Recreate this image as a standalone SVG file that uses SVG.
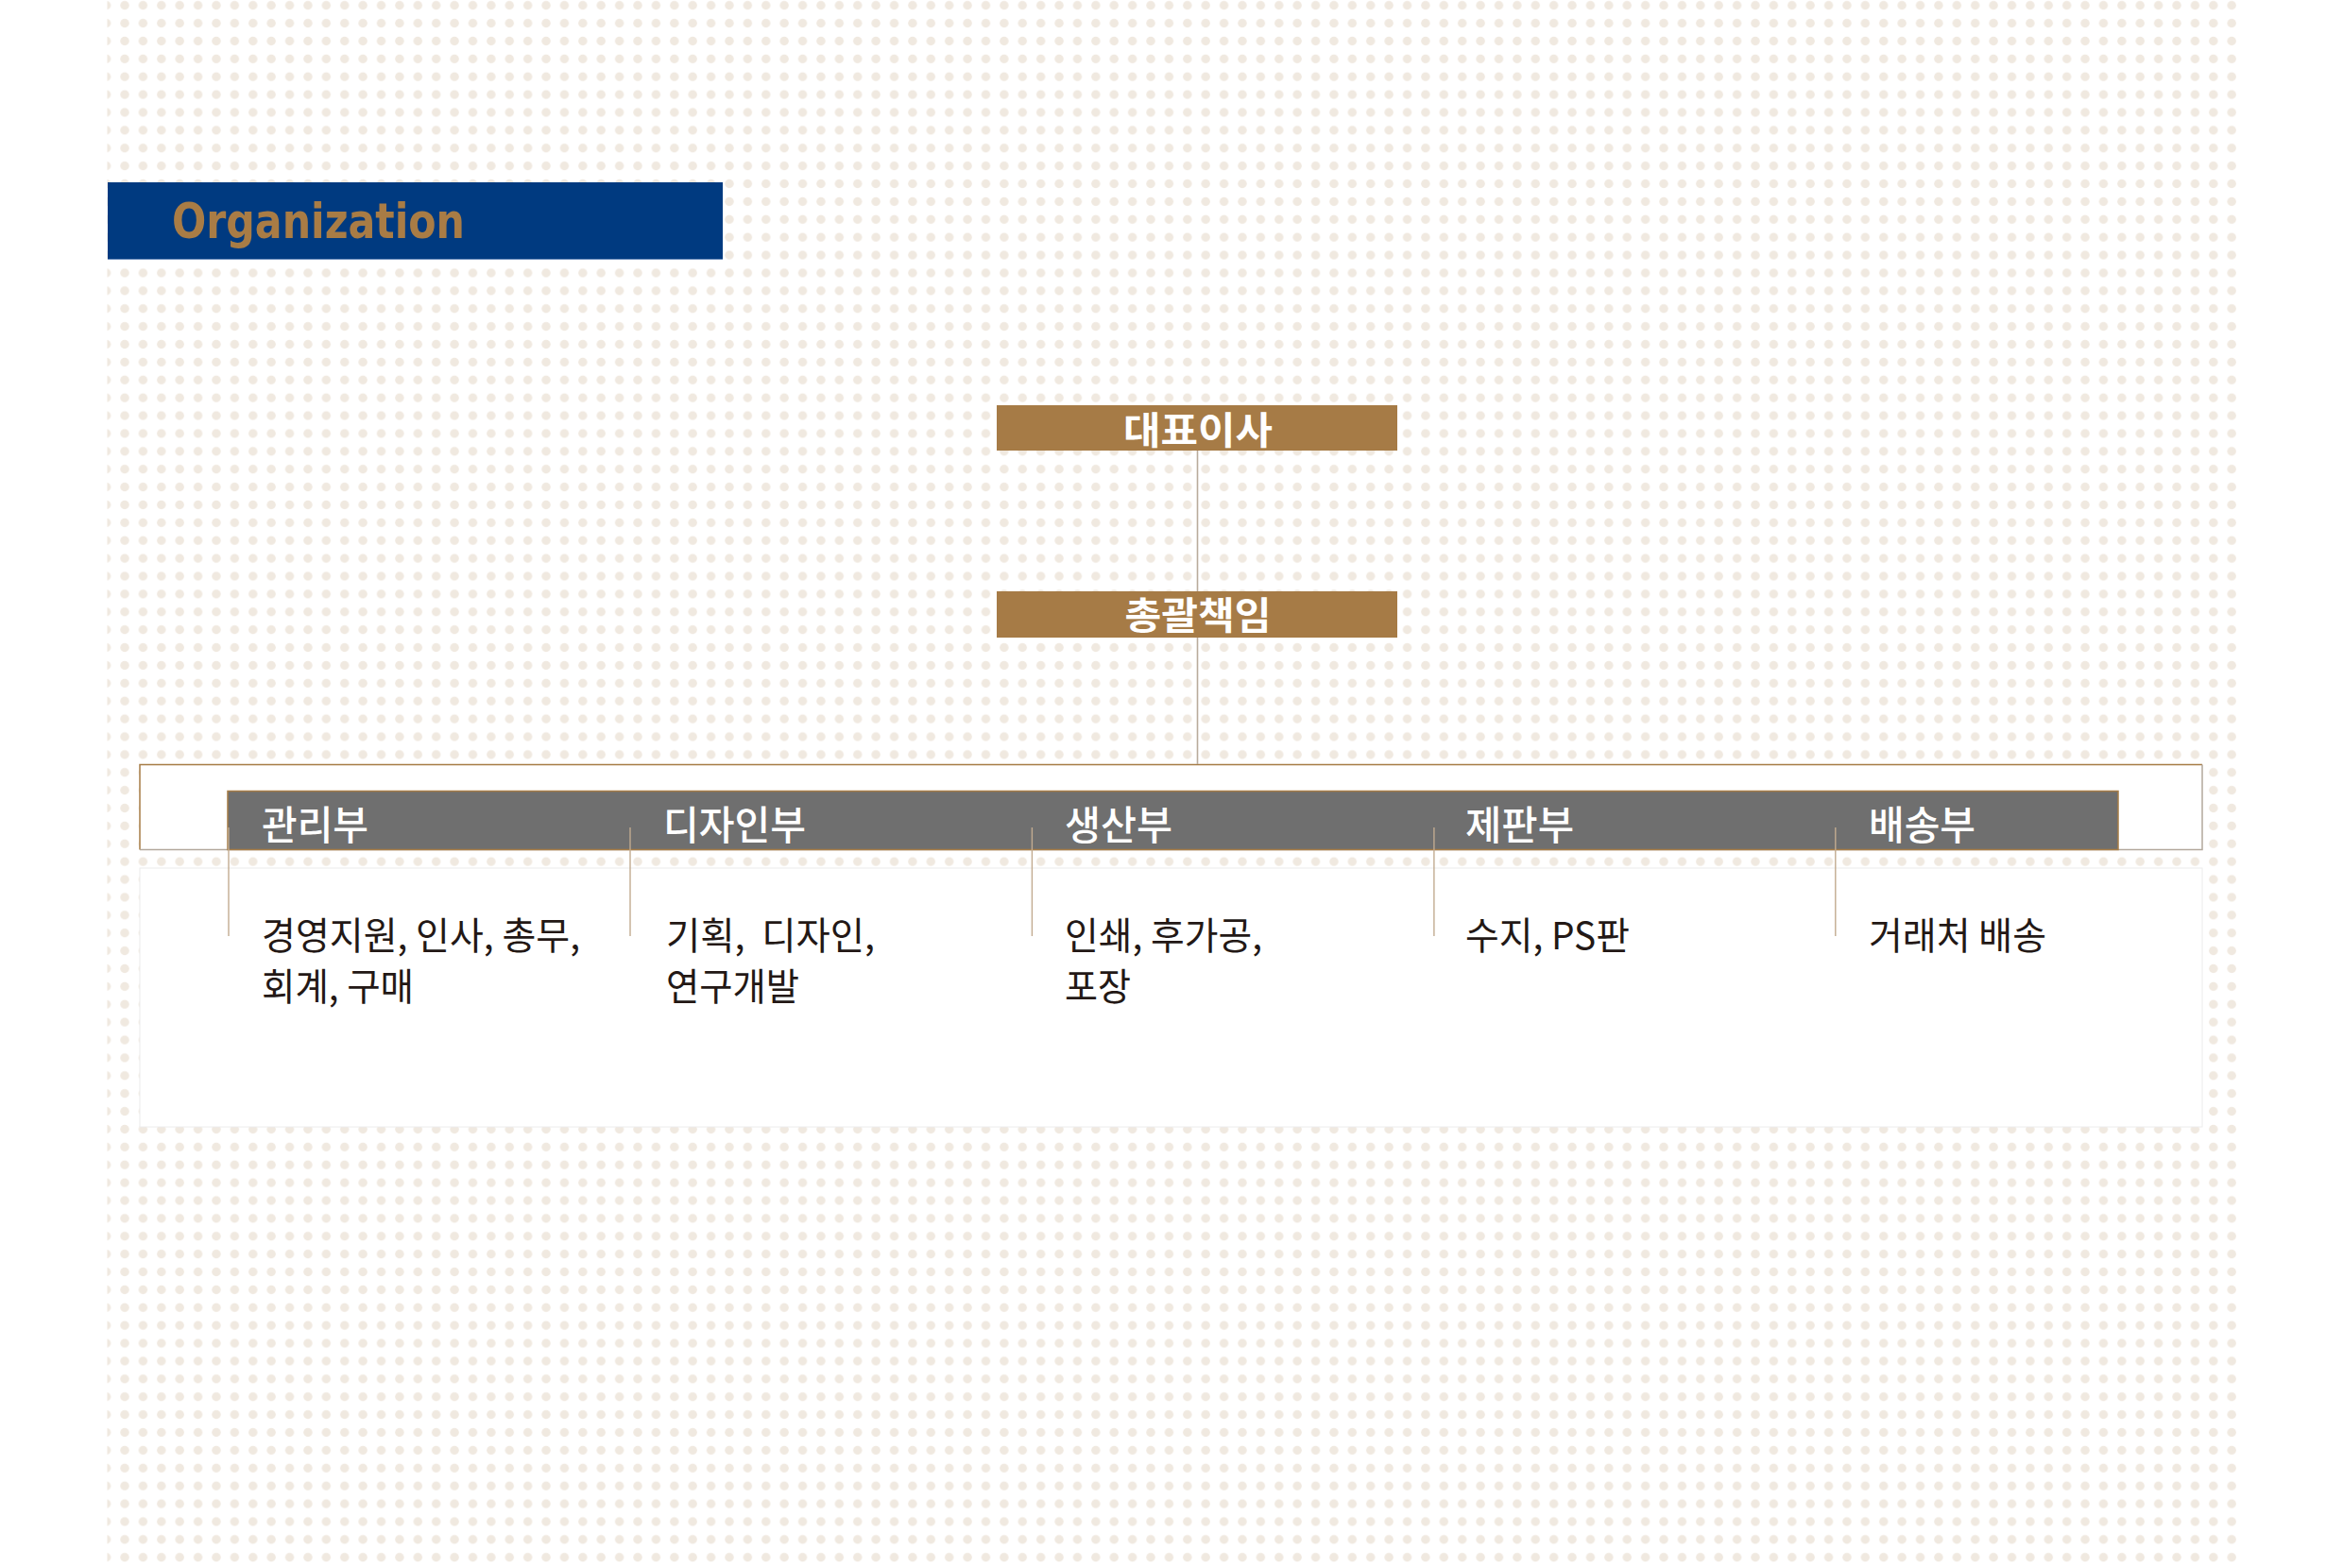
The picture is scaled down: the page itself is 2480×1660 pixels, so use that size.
<svg xmlns="http://www.w3.org/2000/svg" width="2480" height="1660" viewBox="0 0 2480 1660">
<style>
.kr{font-family:"Noto Sans CJK KR","Noto Sans",sans-serif}
.top{font-size:40px;font-weight:700;fill:#ffffff}
.dept{font-size:42px;font-weight:500;fill:#ffffff}
.desc{font-size:40px;font-weight:400;fill:#231815}
.conn{stroke:#b9ab9c;stroke-width:1.6;fill:none}
.sep{stroke:#c2ab90;stroke-width:1.4;fill:none}
</style>
<defs>
<pattern id="dots" patternUnits="userSpaceOnUse" x="122.30" y="-3.74" width="19.393" height="18.885">
<circle cx="9.6965" cy="9.4425" r="4.7" fill="#f0e9e0"/>
</pattern>
</defs>
<rect width="2480" height="1660" fill="#ffffff"/>
<rect x="113.5" y="0" width="2253.5" height="1660" fill="url(#dots)"/>

<g id="title">
<rect x="114" y="193" width="651" height="82" fill="#003a80"/>
<line x1="114" y1="274.5" x2="765" y2="274.5" stroke="#6f8fbd" stroke-width="1"/>
<text x="182" y="252" font-family="'DejaVu Sans Condensed','DejaVu Sans',sans-serif" font-weight="700" font-size="52" fill="#a97c45" textLength="310" lengthAdjust="spacingAndGlyphs">Organization</text>
</g>

<g id="panel">
<rect x="148" y="809.5" width="2183" height="90" fill="#ffffff"/>
<path d="M148 899.5 V809.5 H2331" stroke="#a67c46" stroke-width="1.5" fill="none"/>
<path d="M2331 809.5 V899.5 H148" stroke="#b3a89c" stroke-width="1.5" fill="none"/>
<rect x="148" y="919" width="2183" height="274" fill="#ffffff" stroke="#ececec" stroke-width="1"/>
</g>

<g id="connectors">
<line class="conn" x1="1267.5" y1="477" x2="1267.5" y2="626"/>
<line class="conn" x1="1267.5" y1="675" x2="1267.5" y2="809"/>
</g>

<g id="ceo">
<rect x="1055" y="429" width="424" height="48" fill="#a67b46"/>
<text class="kr top" x="1268" y="470" text-anchor="middle" textLength="158" lengthAdjust="spacingAndGlyphs">대표이사</text>
</g>

<g id="gm">
<rect x="1055" y="626" width="424" height="49" fill="#a67b46"/>
<text class="kr top" x="1268" y="666" text-anchor="middle" textLength="155" lengthAdjust="spacingAndGlyphs">총괄책임</text>
</g>

<g id="dept-bar">
<rect x="241" y="837.5" width="2001" height="62" fill="#6f6f6f" stroke="#a67c46" stroke-width="1.5"/>
</g>

<g id="separators">
<line class="sep" x1="242" y1="876" x2="242" y2="991"/>
<line class="sep" x1="667" y1="876" x2="667" y2="991"/>
<line class="sep" x1="1092.4" y1="876" x2="1092.4" y2="991"/>
<line class="sep" x1="1517.9" y1="876" x2="1517.9" y2="991"/>
<line class="sep" x1="1942.8" y1="876" x2="1942.8" y2="991"/>
</g>

<g id="dept-admin">
<text class="kr dept" x="277" y="889" textLength="113" lengthAdjust="spacingAndGlyphs">관리부</text>
<text class="kr desc" x="277" y="1005" textLength="337" lengthAdjust="spacingAndGlyphs">경영지원, 인사, 총무,</text>
<text class="kr desc" x="277" y="1059" textLength="161" lengthAdjust="spacingAndGlyphs">회계, 구매</text>
</g>

<g id="dept-design">
<text class="kr dept" x="702" y="889" textLength="151" lengthAdjust="spacingAndGlyphs">디자인부</text>
<text class="kr desc" x="705" y="1005" textLength="221" lengthAdjust="spacingAndGlyphs" xml:space="preserve">기획,  디자인,</text>
<text class="kr desc" x="705" y="1059" textLength="141" lengthAdjust="spacingAndGlyphs">연구개발</text>
</g>

<g id="dept-production">
<text class="kr dept" x="1127" y="889" textLength="114" lengthAdjust="spacingAndGlyphs">생산부</text>
<text class="kr desc" x="1127" y="1005" textLength="209" lengthAdjust="spacingAndGlyphs">인쇄, 후가공,</text>
<text class="kr desc" x="1127" y="1059" textLength="70" lengthAdjust="spacingAndGlyphs">포장</text>
</g>

<g id="dept-plate">
<text class="kr dept" x="1551" y="889" textLength="115" lengthAdjust="spacingAndGlyphs">제판부</text>
<text class="kr desc" x="1551" y="1005" textLength="174" lengthAdjust="spacingAndGlyphs">수지, PS판</text>
</g>

<g id="dept-delivery">
<text class="kr dept" x="1978" y="889" textLength="113" lengthAdjust="spacingAndGlyphs">배송부</text>
<text class="kr desc" x="1978" y="1005" textLength="188" lengthAdjust="spacingAndGlyphs">거래처 배송</text>
</g>
</svg>
